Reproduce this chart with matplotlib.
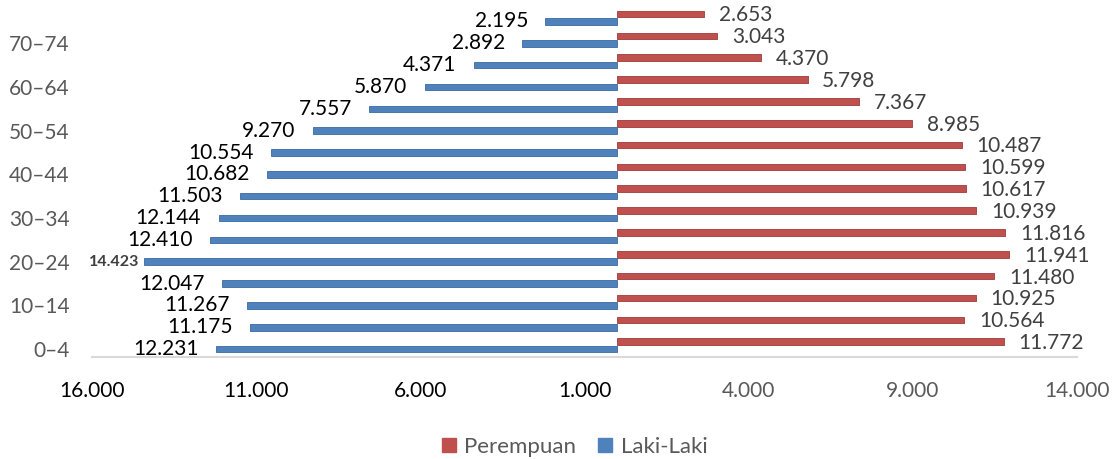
import matplotlib.pyplot as plt
from matplotlib.lines import Line2D

plt.rcParams['font.family'] = ['Lato', 'DejaVu Sans']

groups = ['0–4', '5–9', '10–14', '15–19', '20–24', '25–29', '30–34', '35–39',
          '40–44', '45–49', '50–54', '55–59', '60–64', '65–69', '70–74', '75+']
laki = [12231, 11175, 11267, 12047, 14423, 12410, 12144, 11503,
        10682, 10554, 9270, 7557, 5870, 4371, 2892, 2195]
perempuan = [11772, 10564, 10925, 11480, 11941, 11816, 10939, 10617,
             10599, 10487, 8985, 7367, 5798, 4370, 3043, 2653]
xticks = [-16000, -11000, -6000, -1000, 4000, 9000, 14000]

blue = '#4F81BD'
red = '#C0504D'
gray = '#595959'

fig = plt.figure(figsize=(11.14, 4.59), dpi=100)
ax = fig.add_axes([92 / 1114, 102 / 459, 985 / 1114, 357 / 459])

ys = list(range(len(groups)))
off = 0.17
h = 0.30
ax.barh([y + off for y in ys], perempuan, height=h, color=red,
        edgecolor='#9E3B38', linewidth=0.6)
ax.barh([y - off for y in ys], [-v for v in laki], height=h, color=blue,
        edgecolor='#3C6A9E', linewidth=0.6)

def fmt(v):
    return f'{abs(v):,}'.replace(',', '.')

big = max(laki)
for y, v in zip(ys, laki):
    if v == big:
        ax.annotate(fmt(v), (-v, y - off), xytext=(-3, 0), textcoords='offset points',
                    ha='right', va='center', fontsize=11.5, fontweight='bold', color='#404040')
    else:
        ax.annotate(fmt(v), (-v, y - off), xytext=(-12.5, 0), textcoords='offset points',
                    ha='right', va='center', fontsize=15, color='black')
for y, v in zip(ys, perempuan):
    ax.annotate(fmt(v), (v, y + off), xytext=(10.5, -1), textcoords='offset points',
                ha='left', va='center', fontsize=15, color='#404040')

ax.set_xlim(-16000, 14000)
ax.set_ylim(-0.53, 15.81)
ax.set_xticks(xticks)
ax.set_xticklabels([fmt(v) for v in xticks], fontsize=15)
for lab, v in zip(ax.get_xticklabels(), xticks):
    lab.set_color('black' if v < 0 else gray)
ax.set_yticks([y - off for y in ys[::2]])
ax.set_yticklabels(groups[::2], fontsize=15, color=gray)
ax.tick_params(axis='x', length=0, pad=17)
ax.tick_params(axis='y', length=0, pad=16)

for s in ['top', 'left', 'right']:
    ax.spines[s].set_visible(False)
ax.spines['bottom'].set_color('#D9D9D9')
ax.spines['bottom'].set_linewidth(1.5)

handles = [Line2D([], [], marker='s', linestyle='', markersize=10.5, color=red),
           Line2D([], [], marker='s', linestyle='', markersize=10.5, color=blue)]
leg = fig.legend(handles, ['Perempuan', 'Laki-Laki'], loc='center', ncol=2,
                 bbox_to_anchor=(0.515, 0.026), frameon=False, fontsize=16,
                 handlelength=0.8, handletextpad=0.3, columnspacing=0.9)
for t in leg.get_texts():
    t.set_color(gray)

fig.savefig('out.png', dpi=100)
